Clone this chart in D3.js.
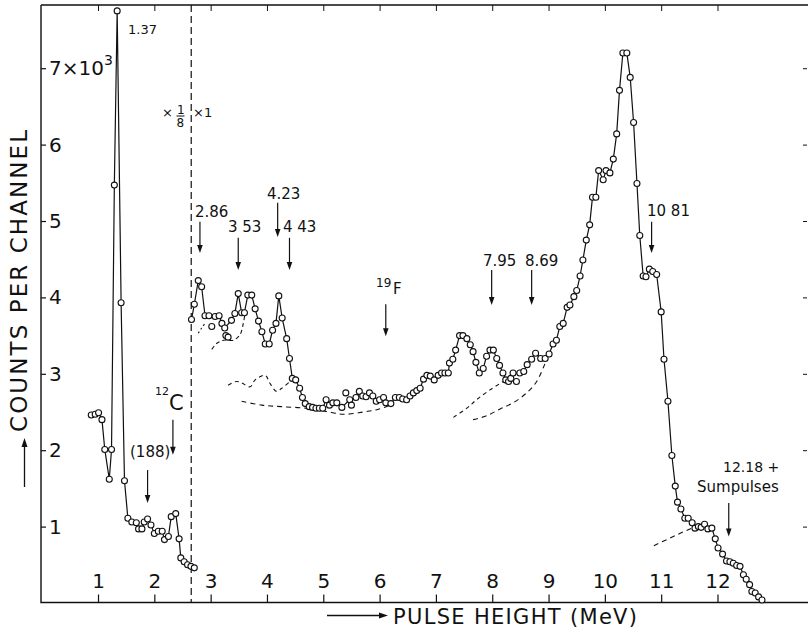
<!DOCTYPE html>
<html>
<head>
<meta charset="utf-8">
<script src="https://cdn.jsdelivr.net/npm/d3@7"></script>
<style>
  html, body { margin: 0; padding: 0; background: #fff; }
  svg { display: block; }
  text { font-family: "DejaVu Sans", sans-serif; fill: #111; }
</style>
</head>
<body>
<svg id="chart" width="808" height="636"></svg>
<script>
// ---- Pulse-height spectrum (counts per channel, units of 10^3) ----

// Low-energy part, drawn at 1/8 scale (left of the dashed divider)
const lowEnergy = [0.88, 0.95, 1.01, 1.07, 1.12, 1.20, 1.24, 1.29, 1.34, 1.41, 1.47, 1.53, 1.60, 1.68, 1.72, 1.78,
  1.82, 1.88, 1.94, 2.00, 2.07, 2.14, 2.18, 2.25, 2.30, 2.38, 2.44, 2.47, 2.53, 2.59, 2.65, 2.71];
const lowCounts = [2.46, 2.47, 2.49, 2.40, 2.01, 1.62, 2.01, 5.47, 7.75, 3.93, 1.60, 1.11, 1.06, 1.05, 0.97, 0.97,
  1.06, 1.10, 1.02, 0.91, 0.94, 0.94, 0.83, 0.87, 1.13, 1.17, 0.84, 0.59, 0.54, 0.50, 0.48, 0.46];

// Main spectrum, full scale (right of the divider)
const highEnergy = [2.66, 2.71, 2.78, 2.84, 2.90, 2.97, 3.08, 3.15, 3.20, 3.25,
  3.37, 3.43, 3.49, 3.55, 3.60, 3.66, 3.73, 3.79, 3.85, 3.91,
  3.97, 4.04, 4.10, 4.16, 4.21, 4.27, 4.35, 4.40, 4.45, 4.51,
  4.58, 4.63, 4.68, 4.75, 4.81, 4.87, 4.93, 4.99, 5.05, 5.11,
  5.17, 5.24, 5.33, 5.47, 5.58, 5.64, 5.70, 5.76, 5.82, 5.88,
  5.94, 6.00, 6.07, 6.11, 6.20, 6.28, 6.35, 6.41, 6.48, 6.54,
  6.60, 6.66, 6.72, 6.78, 6.84, 6.90, 6.97, 7.04, 7.10, 7.16,
  7.22, 7.24, 7.30, 7.35, 7.42, 7.48, 7.55, 7.61, 7.66, 7.71,
  7.77, 7.84, 7.90, 7.96, 8.02, 8.08, 8.13, 8.19, 8.24, 8.29,
  8.33, 8.37, 8.49, 8.56, 8.62, 8.70, 8.77, 8.86, 8.94, 9.01,
  9.08, 9.14, 9.20, 9.26, 9.33, 9.38, 9.45, 9.50, 9.56, 9.61,
  9.67, 9.73, 9.78, 9.84, 9.89, 9.97, 10.02, 10.09, 10.15, 10.21,
  10.26, 10.32, 10.39, 10.45, 10.51, 10.57, 10.62, 10.68, 10.73, 10.79,
  10.85, 10.92, 11.00, 11.05, 11.12, 11.19, 11.25, 11.29, 11.35, 11.42,
  11.48, 11.55, 11.60, 11.66, 11.71, 11.77, 11.83, 11.90, 11.96, 12.01,
  12.09, 12.16, 12.22, 12.28, 12.34, 12.40, 12.46, 12.51, 12.57, 12.61,
  12.67, 12.73, 12.79];
const highCounts = [3.71, 3.91, 4.22, 4.14, 3.76, 3.76, 3.75, 3.76, 3.66, 3.60,
  3.70, 3.79, 4.05, 3.80, 3.80, 4.03, 4.03, 3.85, 3.69, 3.55,
  3.39, 3.39, 3.57, 3.66, 4.02, 3.73, 3.46, 3.20, 2.94, 2.92,
  2.81, 2.69, 2.61, 2.57, 2.56, 2.55, 2.55, 2.55, 2.66, 2.59,
  2.62, 2.62, 2.56, 2.66, 2.69, 2.77, 2.71, 2.70, 2.75, 2.71,
  2.64, 2.66, 2.69, 2.62, 2.61, 2.69, 2.69, 2.67, 2.66, 2.71,
  2.75, 2.78, 2.81, 2.93, 2.98, 2.97, 2.92, 2.98, 3.01, 3.01,
  3.01, 3.14, 3.19, 3.31, 3.50, 3.50, 3.46, 3.38, 3.29, 3.15,
  3.01, 3.07, 3.23, 3.31, 3.31, 3.20, 3.11, 3.01, 2.92, 2.90,
  2.94, 3.01, 3.01, 3.03, 3.12, 3.19, 3.27, 3.20, 3.20, 3.26,
  3.39, 3.44, 3.62, 3.66, 3.87, 3.90, 4.01, 4.09, 4.28, 4.49,
  4.75, 4.95, 5.31, 5.31, 5.66, 5.54, 5.66, 5.63, 5.81, 6.14,
  6.71, 7.20, 7.20, 6.88, 6.29, 5.49, 4.81, 4.28, 4.27, 4.37,
  4.34, 4.30, 3.81, 3.19, 2.64, 1.93, 1.53, 1.32, 1.23, 1.11,
  1.11, 1.05, 0.98, 1.00, 0.99, 1.03, 0.97, 0.98, 0.84, 0.72,
  0.64, 0.55, 0.54, 0.52, 0.49, 0.48, 0.37, 0.31, 0.24, 0.15,
  0.13, 0.08, 0.04];

// Channels plotted as points only, off the drawn curve
const strayEnergy = [3.02, 3.27, 3.31, 5.40, 5.50, 8.43];
const strayCounts = [3.62, 3.50, 3.48, 2.75, 2.59, 2.90];

// Estimated background / line-shape curves (dashed)
const bgShortE = [2.78, 2.84, 2.90];
const bgShortC = [3.53, 3.60, 3.66];
const bg353E = [3.02, 3.11, 3.23, 3.40, 3.52, 3.58, 3.61];
const bg353C = [3.32, 3.40, 3.44, 3.44, 3.51, 3.66, 3.79];
const bg443E = [3.31, 3.46, 3.55, 3.70, 3.79, 3.97, 4.05, 4.17, 4.26, 4.41];
const bg443C = [2.85, 2.90, 2.88, 2.83, 2.92, 2.98, 2.88, 2.77, 2.81, 2.90];
const bgFlatE = [3.55, 3.91, 4.26, 4.68, 5.03, 5.36, 5.71, 5.95, 6.19];
const bgFlatC = [2.64, 2.59, 2.57, 2.55, 2.51, 2.47, 2.50, 2.53, 2.59];
const bg795E = [7.31, 7.55, 7.72, 7.96, 8.20];
const bg795C = [2.43, 2.55, 2.66, 2.79, 2.90];
const bg869E = [7.66, 7.90, 8.14, 8.37, 8.61, 8.79, 8.94];
const bg869C = [2.40, 2.45, 2.54, 2.62, 2.75, 2.90, 3.14];
const bgTailE = [10.87, 11.10, 11.33, 11.51, 11.60];
const bgTailC = [0.75, 0.83, 0.91, 0.97, 1.00];

// Axis ticks
const xTicks = [1, 2, 3, 4, 5, 6, 7, 8, 9, 10, 11, 12];
const yTicks = [1, 2, 3, 4, 5, 6, 7];

// Divider between the x1/8 and x1 parts
const dividerEnergy = 2.655;

// Marked transitions: label, arrow energy, arrow top/tip (counts)
const markLabels = ["2.86", "3 53", "4.23", "4 43", "7.95", "8.69", "10 81", "12.18 +", "(188)"];
const markEnergy = [2.81, 3.49, 4.19, 4.40, 7.99, 8.70, 10.83, 12.20, 1.88];
const markTop = [4.99, 4.78, 5.24, 4.78, 4.36, 4.36, 4.99, 1.31, 1.74];
const markTip = [4.58, 4.36, 4.79, 4.36, 3.90, 3.90, 4.58, 0.87, 1.31];

// ---------------------------------------------------------------
const svg = d3.select("#chart");
const x = d3.scaleLinear().domain([0, 13.6]).range([41.7, 807.6]);
const y = d3.scaleLinear().domain([0, 7.83]).range([603, 4.8]);

const INK = "#111";

// Frame
svg.append("path")
  .attr("d", "M41,5 V602.5 H808 M41,5 H808")
  .attr("fill", "none").attr("stroke", INK).attr("stroke-width", 1.4);

// Bottom axis: ticks point up into the plot, labels sit inside
const gx = svg.append("g").attr("transform", "translate(0,602.5)")
  .call(d3.axisTop(x).tickValues(xTicks).tickSize(8).tickPadding(7).tickSizeOuter(0).tickFormat(d3.format("d")));
gx.select(".domain").remove();
gx.attr("font-family", "DejaVu Sans").attr("font-size", 20).attr("color", INK);
gx.selectAll(".tick line").attr("stroke-width", 1.2);

// Top edge ticks
const gt = svg.append("g").attr("transform", "translate(0,5)")
  .call(d3.axisBottom(x).tickValues(xTicks).tickSize(6).tickSizeOuter(0).tickFormat(""));
gt.select(".domain").remove();
gt.attr("color", INK);

// Left axis: ticks point right, labels inside
const gy = svg.append("g").attr("transform", "translate(41,0)")
  .call(d3.axisRight(y).tickValues(yTicks).tickSize(5).tickPadding(3).tickSizeOuter(0)
    .tickFormat(d => d === 7 ? "" : d));
gy.select(".domain").remove();
gy.attr("font-family", "DejaVu Sans").attr("font-size", 20).attr("color", INK);
gy.selectAll(".tick line").attr("stroke-width", 1.2);
gy.selectAll(".tick").filter(d => d === 7).select("text")
  .call(t => {
    t.append("tspan").text("7×10");
    t.append("tspan").attr("dy", "-0.75em").attr("font-size", 14).text("3");
  });

// Right edge ticks
const gr = svg.append("g").attr("transform", "translate(807,0)")
  .call(d3.axisLeft(y).tickValues(yTicks).tickSize(4).tickSizeOuter(0).tickFormat(""));
gr.select(".domain").remove();
gr.attr("color", INK);

// Dashed divider
svg.append("line")
  .attr("x1", x(dividerEnergy)).attr("x2", x(dividerEnergy))
  .attr("y1", 5).attr("y2", 602)
  .attr("stroke", INK).attr("stroke-width", 1.2).attr("stroke-dasharray", "7,4");

// Scale factors either side of the divider
const sf = svg.append("g").attr("font-size", 13);
sf.append("text").attr("x", 162).attr("y", 117).text("×");
sf.append("text").attr("x", 177).attr("y", 114).attr("font-size", 12).text("1");
sf.append("line").attr("x1", 176.5).attr("x2", 184.5).attr("y1", 116).attr("y2", 116).attr("stroke", INK).attr("stroke-width", 1);
sf.append("text").attr("x", 176.5).attr("y", 126.5).attr("font-size", 12).text("8");
sf.append("text").attr("x", 193).attr("y", 117).text("×1");

// Dashed background curves
const zipPts = (es, cs) => es.map((e, i) => [e, cs[i]]);
const smooth = d3.line().x(d => x(d[0])).y(d => y(d[1])).curve(d3.curveCatmullRom.alpha(0.5));
const bgCurves = [
  [zipPts(bgShortE, bgShortC), "2,2.5"],
  [zipPts(bg353E, bg353C), "4,3"],
  [zipPts(bg443E, bg443C), "4,3.5"],
  [zipPts(bgFlatE, bgFlatC), "5,4"],
  [zipPts(bg795E, bg795C), "4,3.5"],
  [zipPts(bg869E, bg869C), "5,4"],
  [zipPts(bgTailE, bgTailC), "5,4"]
];
svg.append("g").selectAll("path").data(bgCurves).join("path")
  .attr("d", d => smooth(d[0]))
  .attr("fill", "none").attr("stroke", INK).attr("stroke-width", 1.1)
  .attr("stroke-dasharray", d => d[1]);

// Spectrum lines
const straight = d3.line().x(d => x(d[0])).y(d => y(d[1]));
const lowPts = zipPts(lowEnergy, lowCounts);
const highPts = zipPts(highEnergy, highCounts);
const strayPts = zipPts(strayEnergy, strayCounts);
svg.append("g").selectAll("path").data([lowPts, highPts]).join("path")
  .attr("d", straight)
  .attr("fill", "none").attr("stroke", INK).attr("stroke-width", 1.2).attr("stroke-linejoin", "round");

// Channel points
svg.append("g").selectAll("circle").data(lowPts.concat(highPts, strayPts)).join("circle")
  .attr("cx", d => x(d[0])).attr("cy", d => y(d[1])).attr("r", 3)
  .attr("fill", "#fff").attr("stroke", INK).attr("stroke-width", 1.1);

// Arrows marking transitions
function arrow(g, e, cTop, cTip) {
  const ax = x(e), y0 = y(cTop), y1 = y(cTip);
  g.append("line").attr("x1", ax).attr("x2", ax).attr("y1", y0).attr("y2", y1 - 6)
    .attr("stroke", INK).attr("stroke-width", 1.2);
  g.append("path").attr("d", `M${ax - 2.8},${y1 - 8} L${ax + 2.8},${y1 - 8} L${ax},${y1} Z`).attr("fill", INK);
}
const ann = svg.append("g").attr("font-size", 15);
const labelPos = [[195, 217], [228, 232], [267, 199], [283, 232], [483, 265.5], [525, 265.5], [647, 216], [723, 472], [130, 457]];
markLabels.forEach((t, i) => {
  arrow(ann, markEnergy[i], markTop[i], markTip[i]);
  ann.append("text").attr("x", labelPos[i][0]).attr("y", labelPos[i][1])
    .attr("font-size", i === 7 ? 14 : 15).text(t);
});
ann.append("text").attr("x", 697).attr("y", 492).attr("font-size", 15).text("Sumpulses");
ann.append("text").attr("x", 128).attr("y", 34).attr("font-size", 13).text("1.37");

// 12C marker
arrow(ann, 2.33, 2.40, 1.94);
ann.append("text").attr("x", 155).attr("y", 395).attr("font-size", 11).text("12");
ann.append("text").attr("x", 169).attr("y", 409.5).attr("font-size", 21).text("C");

// 19F marker
arrow(ann, 6.11, 3.91, 3.49);
ann.append("text").attr("x", 376).attr("y", 286.5).attr("font-size", 12).text("19");
ann.append("text").attr("x", 393).attr("y", 294).attr("font-size", 15).text("F");

// Axis titles with arrows
svg.append("text")
  .attr("transform", "translate(26.5,281) rotate(-90)")
  .attr("text-anchor", "middle").attr("font-size", 23)
  .attr("textLength", 302).attr("lengthAdjust", "spacing")
  .text("COUNTS PER CHANNEL");
svg.append("line").attr("x1", 24.5).attr("x2", 24.5).attr("y1", 487).attr("y2", 446)
  .attr("stroke", INK).attr("stroke-width", 1.3);
svg.append("path").attr("d", "M21.5,447 L27.5,447 L24.5,438 Z").attr("fill", INK);

svg.append("text")
  .attr("x", 393).attr("y", 624).attr("font-size", 21)
  .attr("textLength", 244).attr("lengthAdjust", "spacing")
  .text("PULSE HEIGHT (MeV)");
svg.append("line").attr("x1", 327).attr("x2", 380).attr("y1", 615.5).attr("y2", 615.5)
  .attr("stroke", INK).attr("stroke-width", 1.3);
svg.append("path").attr("d", "M379,612.5 L379,618.5 L388,615.5 Z").attr("fill", INK);
</script>
</body>
</html>
